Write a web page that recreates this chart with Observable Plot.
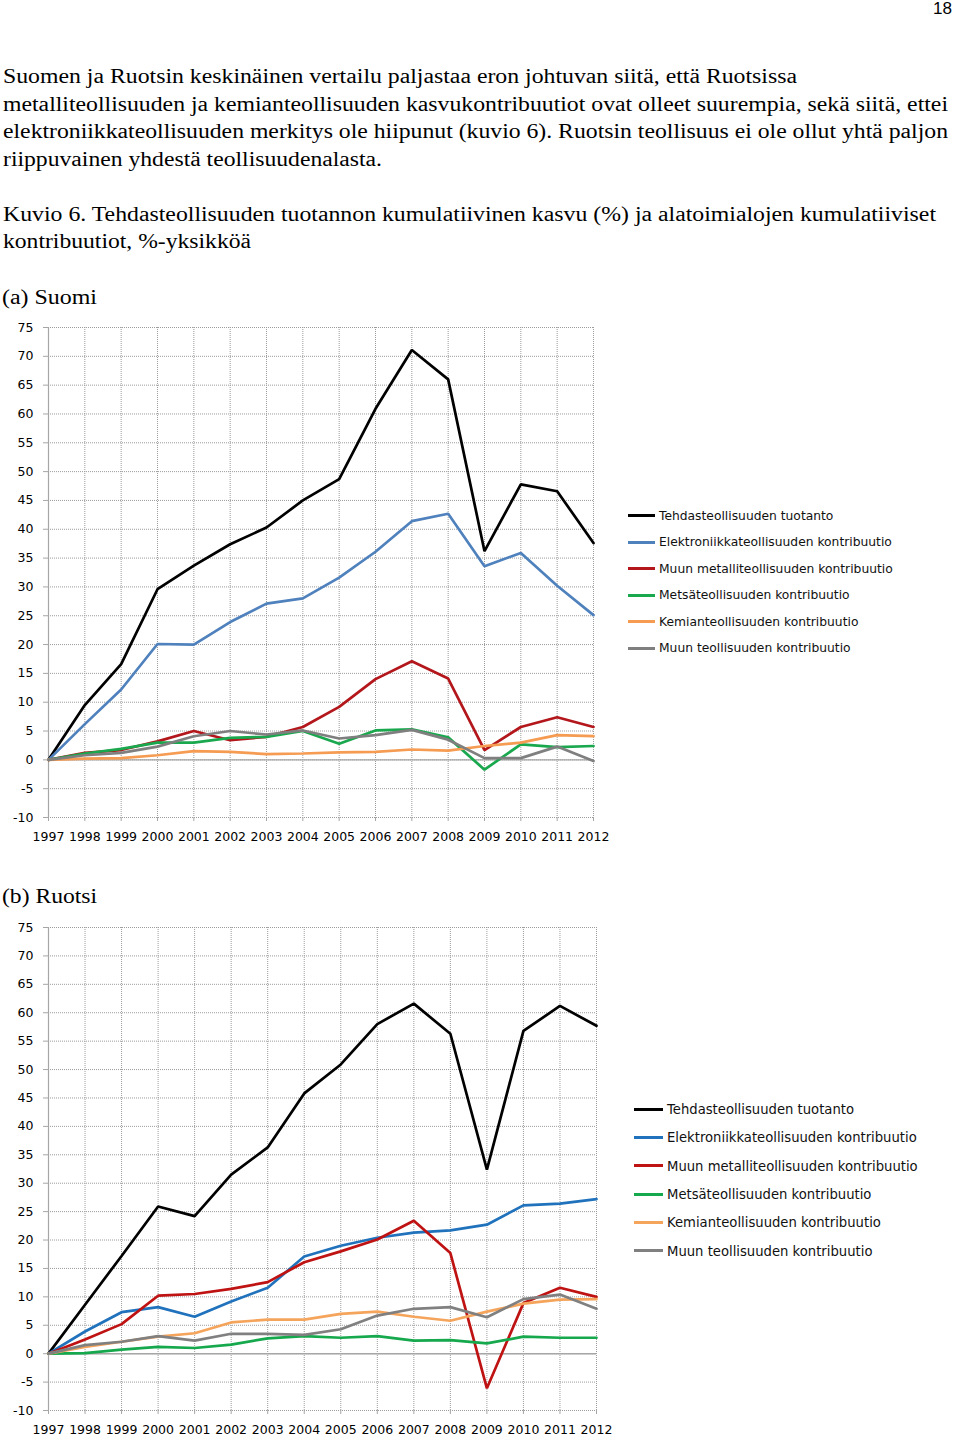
<!DOCTYPE html>
<html><head><meta charset="utf-8">
<script src="https://cdn.jsdelivr.net/npm/d3@7"></script>
<script src="https://cdn.jsdelivr.net/npm/@observablehq/plot@0.6"></script>
<style>
html,body{margin:0;padding:0;background:#fff;}
#page{position:relative;width:960px;height:1440px;overflow:hidden;background:#fff;}
.t{position:absolute;white-space:nowrap;font-family:"Liberation Serif","Times New Roman",serif;font-size:20px;line-height:20px;color:#000;transform-origin:0 0;}
.leg{position:absolute;font-family:"DejaVu Sans",sans-serif;white-space:nowrap;color:#111;transform-origin:0 0;}
.sw{position:absolute;height:3px;}
.chart{position:absolute;left:0;}
</style></head><body><div id="page"></div>
<script>
// ---------- data ----------
const years = [1997,1998,1999,2000,2001,2002,2003,2004,2005,2006,2007,2008,2009,2010,2011,2012];
const yTicks = [-10,-5,0,5,10,15,20,25,30,35,40,45,50,55,60,65,70,75];
const seriesNames = [
  "Tehdasteollisuuden tuotanto",
  "Elektroniikkateollisuuden kontribuutio",
  "Muun metalliteollisuuden kontribuutio",
  "Metsäteollisuuden kontribuutio",
  "Kemianteollisuuden kontribuutio",
  "Muun teollisuuden kontribuutio"
];
// (a) Suomi
const fiTotal  = [0, 9.5, 16.6, 29.6, 33.7, 37.4, 40.3, 45.0, 48.7, 60.9, 71.1, 66.0, 36.2, 47.8, 46.6, 37.6];
const fiElec   = [0, 6.2, 12.2, 20.1, 20.0, 23.9, 27.1, 28.0, 31.6, 36.1, 41.4, 42.7, 33.6, 35.9, 30.2, 25.1];
const fiMetal  = [0, 1.2, 1.7, 3.2, 5.0, 3.4, 4.0, 5.7, 9.2, 14.0, 17.1, 14.1, 1.7, 5.7, 7.4, 5.7];
const fiForest = [0, 1.1, 1.9, 3.0, 3.0, 3.8, 4.0, 5.0, 2.8, 5.1, 5.3, 3.9, -1.7, 2.7, 2.2, 2.4];
const fiChem   = [0, 0.2, 0.3, 0.8, 1.5, 1.4, 1.0, 1.1, 1.3, 1.4, 1.8, 1.6, 2.4, 3.0, 4.3, 4.1];
const fiOther  = [0, 0.8, 1.2, 2.3, 4.1, 5.0, 4.4, 5.1, 3.7, 4.3, 5.2, 3.5, 0.3, 0.3, 2.3, -0.2];
// (b) Ruotsi
const seTotal  = [0, 8.6, 17.2, 25.9, 24.2, 31.5, 36.3, 45.8, 50.9, 58.0, 61.6, 56.3, 32.4, 56.8, 61.2, 57.7];
const seElec   = [0, 3.9, 7.3, 8.2, 6.5, 9.2, 11.6, 17.1, 19.0, 20.4, 21.3, 21.7, 22.7, 26.1, 26.4, 27.2];
const seMetal  = [0, 2.5, 5.2, 10.2, 10.5, 11.4, 12.6, 16.1, 18.0, 20.1, 23.4, 17.7, -6.1, 8.9, 11.6, 10.0];
const seForest = [0, 0.1, 0.7, 1.2, 1.0, 1.6, 2.7, 3.1, 2.8, 3.1, 2.3, 2.4, 1.8, 3.0, 2.8, 2.8];
const seChem   = [0, 1.2, 2.1, 3.0, 3.6, 5.5, 6.0, 6.0, 7.0, 7.4, 6.5, 5.8, 7.4, 8.8, 9.5, 9.6];
const seOther  = [0, 1.5, 2.1, 3.1, 2.3, 3.5, 3.5, 3.3, 4.3, 6.7, 7.9, 8.2, 6.4, 9.6, 10.4, 7.9];

const colorsA = ["#000000", "#4f81bd", "#b3161b", "#19a84e", "#f59b52", "#7f7f7f"];
const colorsB = ["#000000", "#1f72bb", "#bf1212", "#16a84c", "#f5a45c", "#808080"];

// ---------- text ----------
const page = document.getElementById("page");
const textLines = [
  {s: "Suomen ja Ruotsin keskinäinen vertailu paljastaa eron johtuvan siitä, että Ruotsissa", b: 83, l: 3, r: 797},
  {s: "metalliteollisuuden ja kemianteollisuuden kasvukontribuutiot ovat olleet suurempia, sekä siitä, ettei", b: 110.5, l: 3, r: 948},
  {s: "elektroniikkateollisuuden merkitys ole hiipunut (kuvio 6). Ruotsin teollisuus ei ole ollut yhtä paljon", b: 138, l: 3, r: 948},
  {s: "riippuvainen yhdestä teollisuudenalasta.", b: 165.5, l: 3, r: 382},
  {s: "Kuvio 6. Tehdasteollisuuden tuotannon kumulatiivinen kasvu (%) ja alatoimialojen kumulatiiviset", b: 221, l: 3, r: 936},
  {s: "kontribuutiot, %-yksikköä", b: 248, l: 3, r: 251},
  {s: "(a) Suomi", b: 304, l: 2, r: 97},
  {s: "(b) Ruotsi", b: 903, l: 2, r: 97}
];
function fitText(el, l, r) {
  const w = el.getBoundingClientRect().width;
  el.style.transform = `scaleX(${(r - l) / w})`;
}
textLines.forEach(t => {
  const d = document.createElement("div");
  d.className = "t";
  d.textContent = t.s;
  d.style.left = t.l + "px";
  d.style.top = (t.b - 16.75) + "px";
  page.appendChild(d);
  fitText(d, t.l, t.r);
});
const pn = document.createElement("div");
pn.textContent = "18";
pn.style.cssText = "position:absolute;left:933px;top:1px;font-family:'Liberation Sans',Arial,sans-serif;font-size:16px;line-height:16px;transform-origin:0 0;";
page.appendChild(pn);
fitText(pn, 933, 952);

// ---------- charts ----------
function makeChart(series, colors, o) {
  const rows = [];
  series.forEach((vals, i) => vals.forEach((v, j) => rows.push({year: years[j], value: v, series: seriesNames[i]})));
  const p = Plot.plot({
    width: 620, height: o.height,
    marginLeft: 48, marginRight: o.marginRight, marginTop: 15, marginBottom: o.marginBottom,
    style: {fontFamily: "DejaVu Sans, sans-serif", fontSize: "12.5px", background: "transparent", overflow: "visible"},
    x: {domain: [1997, 2012], label: null},
    y: {domain: [-10, 75], label: null},
    color: {domain: seriesNames, range: colors},
    marks: [
      Plot.gridX(years, {stroke: "#9c9c9c", strokeOpacity: 1, strokeDasharray: "1,1"}),
      Plot.gridY(yTicks, {stroke: "#9c9c9c", strokeOpacity: 1, strokeDasharray: "1,1"}),
      Plot.ruleY([0], {stroke: "#a6a6a6", strokeWidth: 1.4}),
      Plot.ruleX([1997], {stroke: "#a6a6a6", strokeWidth: 1.2}),
      Plot.axisX(years, {tickSize: 4, tickPadding: 11, stroke: "#a6a6a6", fill: "#000", label: null, tickFormat: d => String(d)}),
      Plot.axisY(yTicks, {tickSize: 5, tickPadding: 10, stroke: "#a6a6a6", fill: "#000", label: null, tickFormat: d => String(d)}),
      Plot.line(rows, {x: "year", y: "value", z: "series", stroke: "series", strokeWidth: 2.7, strokeLinejoin: "miter"})
    ]
  });
  p.classList.add("chart");
  p.style.top = o.top + "px";
  page.appendChild(p);
}
makeChart([fiTotal, fiElec, fiMetal, fiForest, fiChem, fiOther], colorsA, {top: 312, height: 535, marginRight: 27, marginBottom: 30});
makeChart([seTotal, seElec, seMetal, seForest, seChem, seOther], colorsB, {top: 912, height: 528, marginRight: 24, marginBottom: 30});

// ---------- legends ----------
function legend(colors, o) {
  seriesNames.forEach((name, i) => {
    const y = o.y0 + i * o.step;
    const sw = document.createElement("div");
    sw.className = "sw";
    sw.style.cssText += `left:${o.sx1}px;width:${o.sx2 - o.sx1}px;top:${y - 1.5}px;background:${colors[i]};`;
    page.appendChild(sw);
    const t = document.createElement("div");
    t.className = "leg";
    t.textContent = name;
    t.style.fontSize = o.fs + "px";
    t.style.lineHeight = o.fs + "px";
    t.style.left = o.tx + "px";
    t.style.top = (y + o.bOff - 0.846 * o.fs) + "px";
    page.appendChild(t);
  });
}
legend(colorsA, {y0: 515.7, step: 26.5, sx1: 628, sx2: 655, tx: 659, fs: 12.3, bOff: 4.5});
legend(colorsB, {y0: 1109, step: 28.35, sx1: 634, sx2: 663, tx: 667, fs: 13.2, bOff: 5});
</script>
</body></html>
